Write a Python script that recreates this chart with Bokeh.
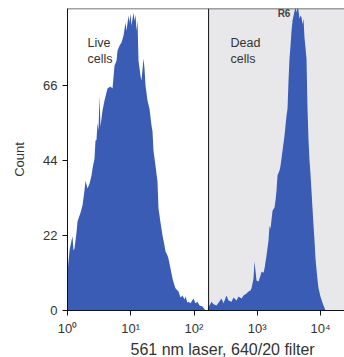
from bokeh.plotting import figure
from bokeh.models import Range1d, FixedTicker, BoxAnnotation, Span, Label, Title
from bokeh.embed import file_html
from bokeh.resources import INLINE

# Fluorescence intensity (561 nm laser, 640/20 filter) and event counts
live_x = [1.00, 1.076, 1.157, 1.20, 1.244, 1.29, 1.388, 1.439, 1.605, 1.726, 1.857, 1.926,
          2.071, 2.228, 2.396, 2.485, 2.673, 2.772, 2.874, 2.98, 3.092, 3.206, 3.325, 3.576,
          3.846, 4.29, 4.784, 5.146, 5.535, 5.954, 6.174, 6.64, 7.142, 7.681, 8.261, 8.568,
          9.214, 9.555, 9.909, 10.28, 11.05, 11.47, 11.89, 12.33, 12.79, 13.26, 14.26, 14.79,
          15.91, 16.5, 17.11, 18.4, 19.79, 21.29, 22.08, 22.89, 24.62, 26.48, 27.46, 29.54,
          31.77, 34.17, 35.43, 38.11, 39.53, 42.51, 45.72, 49.18, 51.0, 54.85, 56.89, 61.18,
          65.8, 70.77, 73.4, 78.94, 81.87, 88.06, 98.2, 105.6, 113.6, 122.2, 136.2, 152.0]
live_count = [11.1, 17.6, 20.5, 21.7, 17.6, 18.2, 22.9, 26.1, 28.7, 30.8, 35.2, 38.1,
              35.8, 37.2, 39.6, 41.6, 44.6, 49.9, 50.0, 55.0, 52.8, 63.0, 54.0, 58.7,
              61.6, 65.1, 65.7, 65.1, 71.8, 73.3, 76.2, 77.7, 78.6, 80.6, 84.5, 82.1,
              86.5, 84.5, 87.1, 83.6, 87.4, 85.0, 86.8, 82.1, 85.0, 73.3, 68.9, 67.4,
              73.9, 71.0, 66.0, 61.6, 59.2, 54.3, 52.5, 46.9, 42.5, 37.8, 29.9, 25.8,
              22.0, 19.1, 17.3, 16.1, 15.2, 12.3, 9.4, 7.3, 6.5, 5.9, 5.6, 3.8,
              4.4, 3.2, 4.1, 2.3, 2.6, 2.1, 3.5, 2.1, 2.6, 1.5, 1.2, 0.0]

dead_x = [163.5, 175.8, 189.1, 203.4, 226.8, 244.0, 272.1, 292.7, 326.5, 351.2, 391.6, 421.2,
          469.8, 505.3, 563.6, 606.2, 676.1, 727.3, 782.2, 811.2, 872.5, 904.9, 973.3, 1047,
          1126, 1168, 1256, 1302, 1401, 1507, 1563, 1621, 1743, 1874, 1944, 2016, 2090, 2248,
          2332, 2507, 2697, 2901, 3009, 3120, 3236, 3356, 3480, 3609, 3743, 3882, 4026, 4175,
          4330, 4490, 4656, 4829, 5008, 5194, 5386, 5585, 5792, 6007, 6230, 6461, 6700, 6949,
          7207, 7473, 7750, 8038, 8336, 8646, 8966, 9299, 10000, 10755, 11154, 11995]
dead_count = [0.0, 1.5, 2.6, 1.8, 1.5, 2.3, 3.5, 2.1, 4.4, 2.9, 2.6, 3.8,
              2.9, 4.1, 3.5, 4.4, 5.0, 5.6, 5.9, 6.5, 9.4, 14.4, 8.8, 8.5,
              10.3, 11.4, 11.1, 12.3, 16.1, 20.5, 24.9, 24.0, 29.3, 30.2, 32.3, 35.2, 39.6, 41.1,
              42.5, 46.9, 51.3, 57.2, 59.2, 67.4, 73.9, 77.7, 82.1, 85.0, 86.5, 87.7, 89.0, 87.4,
              89.0, 88.0, 85.6, 86.5, 86.0, 84.0, 85.6, 80.0, 77.0, 73.9, 59.2, 50.0, 44.0, 40.0,
              35.0, 29.9, 25.0, 20.5, 15.2, 12.0, 9.0, 6.5, 4.0, 2.3, 1.5, 0.0]

x_ticks = [1, 10, 100, 1000, 10000]
x_tick_labels = ["10\u2070", "10\u00b9", "10\u00b2", "10\u00b3", "10\u2074"]
y_ticks = [0, 22, 44, 66]
gate_start = 170
x_max = 23950
y_max = 88.6

FONT = "Liberation Sans"
TXT = "#333333"
BLUE = "#3a5cb5"

p = figure(width=344, height=357, x_axis_type="log", output_backend="svg",
           toolbar_location=None, x_range=Range1d(1, x_max), y_range=Range1d(0, y_max),
           min_border_left=67, min_border_right=0, min_border_top=8, min_border_bottom=47)
p.outline_line_color = None
p.xgrid.visible = False
p.ygrid.visible = False
p.background_fill_color = "white"

p.add_layout(BoxAnnotation(left=gate_start, fill_color="#e8e8ea", fill_alpha=1.0,
                           line_color=None, level="underlay"))

p.varea(x=live_x, y1=0, y2=live_count, fill_color=BLUE)
p.varea(x=dead_x, y1=0, y2=dead_count, fill_color=BLUE)

p.add_layout(Span(location=gate_start, dimension="height", line_color="#111111", line_width=1))
p.add_layout(Span(location=y_max, dimension="width", line_color="#444444", line_width=1.5))

for txt, xx, yy in [("Live", 2.07, 80.5), ("cells", 2.07, 75.8),
                    ("Dead", 378, 80.5), ("cells", 378, 75.8)]:
    p.add_layout(Label(x=xx, y=yy, text=txt, text_font=FONT, text_font_size="12.5px",
                       text_color=TXT, text_baseline="top", text_align="left"))
p.add_layout(Label(x=2100, y=88.7, text="R6", text_font=FONT, text_font_size="10px",
                   text_font_style="bold", text_color="#444444", text_baseline="top"))

p.xaxis.ticker = FixedTicker(ticks=x_ticks)
p.xaxis.major_label_overrides = {t: l for t, l in zip(x_ticks, x_tick_labels)}
p.yaxis.ticker = FixedTicker(ticks=y_ticks)
for ax in (p.xaxis, p.yaxis):
    ax.minor_tick_line_color = None
    ax.axis_line_color = "#111111"
    ax.major_tick_line_color = "#111111"
    ax.major_tick_in = 0
    ax.major_tick_out = 5
    ax.major_label_text_font = FONT
    ax.major_label_text_font_size = "13px"
    ax.major_label_text_color = TXT
    ax.axis_label_text_font = FONT
    ax.axis_label_text_font_size = "13px"
    ax.axis_label_text_font_style = "normal"
    ax.axis_label_text_color = TXT
p.yaxis.axis_label = "Count"
p.xaxis.major_label_standoff = 5
p.yaxis.major_label_standoff = 5
p.yaxis.axis_label_standoff = 13

# x-axis title, placed where the original figure puts it
p.add_layout(Title(text="561 nm laser, 640/20 filter", align="left", offset=63,
                   text_font=FONT, text_font_size="16px", text_font_style="normal",
                   text_color=TXT, standoff=0), "below")

open("out.html", "w").write(file_html(p, INLINE))
